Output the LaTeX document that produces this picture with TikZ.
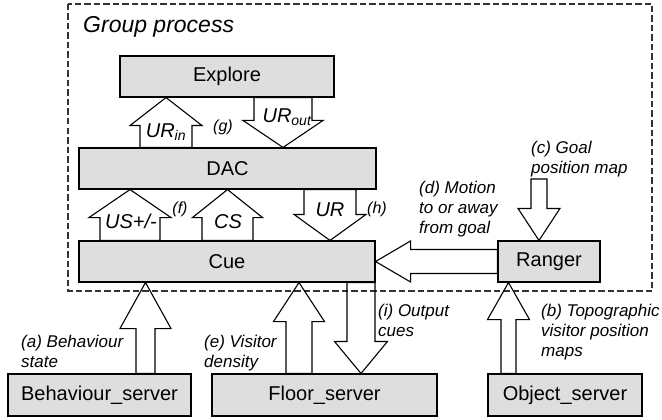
\documentclass[tikz,border=0pt]{standalone}
\usepackage{fontspec}
\setmainfont{Liberation Sans}
\usetikzlibrary{calc}
\tikzset{
 box/.style={draw=black, line width=1.1pt, fill=black!13, minimum height=41pt, inner sep=0pt, font=\fontsize{20}{24}\selectfont},
 blockarrow/.style={draw=black, line width=1.1pt, line join=miter},
 arrlabel/.style={font=\fontsize{20}{24}\selectfont\itshape, inner sep=0pt},
 tag/.style={font=\fontsize{16}{19}\selectfont\itshape, inner sep=0pt},
 note/.style={font=\fontsize{17}{20}\selectfont\itshape, inner sep=0pt, align=left, anchor=north west},
 groupbox/.style={draw=black!80, dash pattern=on 6.5pt off 3pt, line width=1.2pt}
}
% vertical block arrow: #1 x, #2 from, #3 to, #4 half shaft, #5 half head, #6 head length
\newcommand\blkV[6]{%
\draw[blockarrow] let \p1=(#2), \p2=(#3), \p3=(#1,0), \n1={(\y2>\y1)?1:-1} in
 ({\x3-#4pt},\y1) -- ({\x3-#4pt},{\y2-\n1*#6pt}) -- ({\x3-#5pt},{\y2-\n1*#6pt}) -- (\x3,\y2)
 -- ({\x3+#5pt},{\y2-\n1*#6pt}) -- ({\x3+#4pt},{\y2-\n1*#6pt}) -- ({\x3+#4pt},\y1) -- cycle;}
% horizontal block arrow: #1 y, #2 from, #3 to, #4 half shaft, #5 half head, #6 head length
\newcommand\blkH[6]{%
\draw[blockarrow] let \p1=(#2), \p2=(#3), \p3=(0,#1), \n1={(\x2>\x1)?1:-1} in
 (\x1,{\y3+#4pt}) -- ({\x2-\n1*#6pt},{\y3+#4pt}) -- ({\x2-\n1*#6pt},{\y3+#5pt}) -- (\x2,\y3)
 -- ({\x2-\n1*#6pt},{\y3-#5pt}) -- ({\x2-\n1*#6pt},{\y3-#4pt}) -- (\x1,{\y3-#4pt}) -- cycle;}
\begin{document}
\begin{tikzpicture}[x=1pt,y=-1pt]
\useasboundingbox (0,0) rectangle (662,420);
% group frame
\draw[groupbox] (68,4) rectangle (652,291);
\node[font=\fontsize{23}{28}\selectfont\itshape, anchor=base west, inner sep=0pt] (gp) at (83,33) {Group process};
% boxes
\node[box, minimum width=214pt] (explore) at (227,76.5) {Explore};
\node[box, minimum width=297pt] (dac) at (227.5,168.5) {DAC};
\node[box, minimum width=296pt] (cue) at (227,261.5) {Cue};
\node[box, minimum width=102pt] (ranger) at (549,261.5) {Ranger};
\node[box, minimum width=183pt, minimum height=42pt] (bs) at (99.5,395) {Behaviour\_server};
\node[box, minimum width=225pt, minimum height=42pt] (fs) at (324.5,395) {Floor\_server};
\node[box, minimum width=154pt, minimum height=42pt] (os) at (565,395) {Object\_server};
\coordinate (goaltop) at (539,179);
% block arrows
\blkV{166}{dac.north}{explore.south}{26}{36}{28}
\blkV{283}{explore.south}{dac.north}{29}{40}{27}
\blkV{130}{cue.north}{dac.south}{30}{41}{28}
\blkV{227.5}{cue.north}{dac.south}{25.5}{35}{28}
\blkV{330}{dac.south}{cue.north}{26}{36}{26}
\blkH{261.5}{ranger.west}{cue.east}{12}{20.5}{35}
\blkV{539}{goaltop}{ranger.north}{8}{21}{32}
\blkV{508.5}{os.north}{ranger.south}{7.5}{21}{37}
\blkV{299}{fs.north}{cue.south}{13}{25.5}{39}
\blkV{361}{cue.south}{fs.north}{14}{26.5}{32}
\blkV{145.5}{bs.north}{cue.south}{9.5}{25.5}{46}
% arrow labels
\node[arrlabel] (lurin) at (166,132) {UR\textsubscript{in}};
\node[arrlabel] (lurout) at (287,117) {UR\textsubscript{out}};
\node[arrlabel] (lus) at (131,221) {US+/-};
\node[arrlabel] (lcs) at (228,222) {CS};
\node[arrlabel] (lur) at (330,210) {UR};
\node[tag] (lf) at (180,209) {(f)};
\node[tag] (lg) at (223,127) {(g)};
\node[tag] (lh) at (377,209) {(h)};
% notes
\node[note] (la) at (21,334.5) {(a) Behaviour\\state};
\node[note] (le) at (204,334.5) {(e) Visitor\\density};
\node[note] (li) at (378,303.5) {(i) Output\\cues};
\node[note] (lb) at (541,303.5) {(b) Topographic\\visitor position\\maps};
\node[note] (lc) at (531,140.5) {(c) Goal\\position map};
\node[note] (ld) at (419,180.5) {(d) Motion\\to or away\\from goal};
\end{tikzpicture}
\end{document}
